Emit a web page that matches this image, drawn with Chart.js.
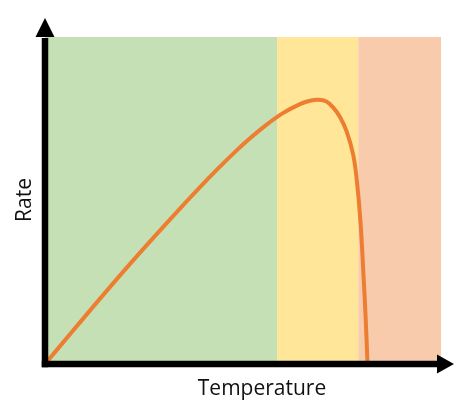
<!DOCTYPE html>
<html>
<head>
<meta charset="utf-8">
<title>Rate vs Temperature</title>
<script src="https://cdn.jsdelivr.net/npm/chart.js@4.4.1/dist/chart.umd.min.js"></script>
<style>
    html, body { margin: 0; padding: 0; background: #fff; }
    #wrap { width: 474px; height: 416px; position: relative; }
</style>
</head>
<body>
<div id="wrap"><canvas id="chart"></canvas></div>
<script>
// curve (x = temperature, y = rate, both 0..100)
const temperature = [0, 7.15, 15.58, 23.99, 32.40, 39.14, 43.36, 47.55, 51.77, 55.98, 60.18, 64.39, 66.92, 68.94,
                     70.96, 72.80, 74.49, 76.19, 77.85, 78.86, 79.72, 80.38, 80.98, 81.44];
const rate        = [0, 10.30, 22.35, 34.04, 45.31, 54.07, 59.35, 64.34, 69.02, 73.23, 76.80, 79.49, 80.50, 80.80,
                     80.34, 78.38, 75.54, 71.04, 63.91, 54.74, 42.51, 28.23, 13.98, 0];

// background zones along the temperature axis
const bandEdges = [0, 58.6, 79.1, 100];
const bandColors = ['#C5E0B4', '#FFE699', '#F8CBAD'];

const xTitle = 'Temperature';
const yTitle = 'Rate';

const palette = {
    line: '#ED7D31',
    axis: '#000000',
    text: '#111111'
};

const bandsPlugin = {
    id: 'bands',
    beforeDatasetsDraw(chart) {
        const { ctx, scales: { x, y } } = chart;
        const top = y.getPixelForValue(100);
        const bottom = y.getPixelForValue(0);
        ctx.save();
        for (let i = 0; i < bandColors.length; i++) {
            const x0 = x.getPixelForValue(bandEdges[i]);
            const x1 = x.getPixelForValue(bandEdges[i + 1]);
            ctx.fillStyle = bandColors[i];
            ctx.fillRect(x0, top, x1 - x0, bottom - top);
        }
        ctx.restore();
    }
};

// black axes with arrow heads + titles
const axesPlugin = {
    id: 'arrowAxes',
    afterDatasetsDraw(chart) {
        const { ctx, scales: { x, y } } = chart;
        const ox = x.getPixelForValue(0);
        const oy = y.getPixelForValue(0);
        const topY = y.getPixelForValue(100);
        const rightX = x.getPixelForValue(100);
        const lw = 6.5;
        const head = 19, half = 9.5;

        ctx.save();
        ctx.strokeStyle = palette.axis;
        ctx.fillStyle = palette.axis;
        ctx.lineWidth = lw;
        ctx.lineCap = 'butt';

        // y axis
        ctx.beginPath();
        ctx.moveTo(ox, oy + lw / 2);
        ctx.lineTo(ox, topY + 1);
        ctx.stroke();
        ctx.beginPath();
        ctx.moveTo(ox, topY - head);
        ctx.lineTo(ox - half, topY);
        ctx.lineTo(ox + half, topY);
        ctx.closePath();
        ctx.fill();

        // x axis
        const baseX = rightX - 4;
        ctx.beginPath();
        ctx.moveTo(ox - lw / 2, oy);
        ctx.lineTo(baseX + 1, oy);
        ctx.stroke();
        ctx.beginPath();
        ctx.moveTo(baseX + 17, oy);
        ctx.lineTo(baseX, oy - half);
        ctx.lineTo(baseX, oy + half);
        ctx.closePath();
        ctx.fill();

        // titles
        ctx.fillStyle = palette.text;
        ctx.font = '21px "Open Sans", sans-serif';
        ctx.textAlign = 'center';
        ctx.textBaseline = 'alphabetic';
        ctx.fillText(xTitle, 262, 395);

        ctx.translate(31, 200);
        ctx.rotate(-Math.PI / 2);
        ctx.fillText(yTitle, 0, 0);
        ctx.restore();
    }
};

new Chart(document.getElementById('chart'), {
    type: 'line',
    data: {
        datasets: [{
            data: temperature.map((t, i) => ({ x: t, y: rate[i] })),
            borderColor: palette.line,
            borderWidth: 4,
            pointRadius: 0,
            fill: false,
            tension: 0.4
        }]
    },
    options: {
        responsive: true,
        maintainAspectRatio: false,
        animation: false,
        layout: { padding: { left: 45, right: 33, top: 37, bottom: 52 } },
        plugins: { legend: { display: false }, tooltip: { enabled: false } },
        scales: {
            x: { type: 'linear', min: 0, max: 100, display: false },
            y: { type: 'linear', min: 0, max: 100, display: false }
        }
    },
    plugins: [bandsPlugin, axesPlugin]
});
</script>
</body>
</html>
